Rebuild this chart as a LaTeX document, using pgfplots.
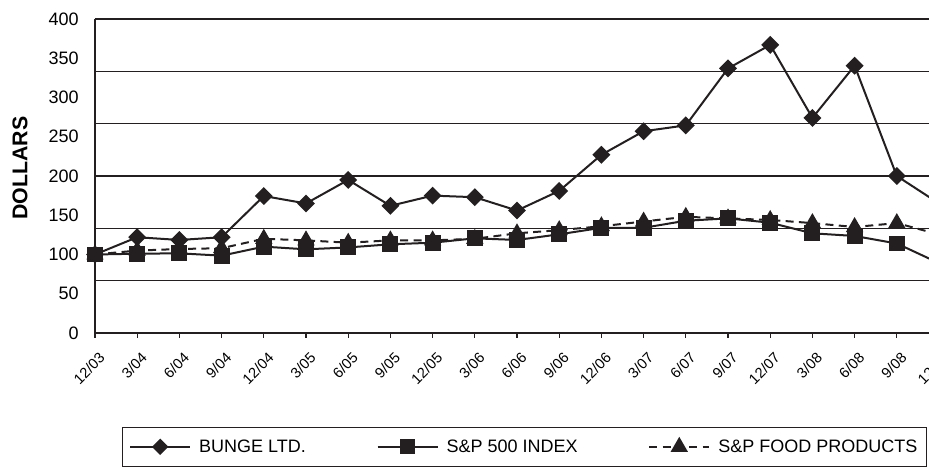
\documentclass[border=0pt]{standalone}
\usepackage{pgfplots}
\usepackage{pgfplotstable}
\pgfplotsset{compat=1.18}
\usepackage{fontspec}
\setmainfont{Liberation Sans}
\definecolor{ink}{RGB}{35,31,32}

\pgfplotstableread{
x bunge sp food
0 100 100 100
1 122 101 105
2 118.5 101.5 107
3 122 98.5 108
4 174.5 110 120
5 165 106.6 118
6 195 109 115
7 162 113 118
8 175 115 118
9 173 120.6 120
10 156 118.5 127
11 181 125.7 131
12 227 134 136
13 257 134 142
14 264.5 143 148
15 337 146 146
16 367 140.5 144
17 274 127 140
18 340.5 123.6 135
19 200 114 140
20 165 89 125.5
}\datatable

\begin{document}
\begin{tikzpicture}
\begin{axis}[
  at={(0,0)}, anchor=south west,
  scale only axis, width=633pt, height=235.5pt,
  xmin=0, xmax=20, ymin=0, ymax=400,
  axis x line*=bottom, axis y line*=left,
  axis line style={ink, line width=1.1pt, -},
  tick align=outside,
  xtick={0,...,20},
  xticklabels={12/03,3/04,6/04,9/04,12/04,3/05,6/05,9/05,12/05,3/06,6/06,9/06,12/06,3/07,6/07,9/07,12/07,3/08,6/08,9/08,12/08},
  x tick label style={rotate=45, anchor=east, font=\fontsize{11}{12}\selectfont, yshift=-13pt, xshift=-2pt},
  x tick style={ink, line width=0.8pt},
  xtick pos=bottom,
  ytick={0,50,...,400},
  y tick label style={font=\fontsize{13.5}{16}\selectfont},
  yticklabel style={xshift=-5pt},
  major tick length=3.75pt,
  y tick style={draw=none},
  extra y ticks={0,66.6667,133.3333,200,266.6667,333.3333,400},
  extra y tick labels={},
  extra y tick style={grid=major, major grid style={ink, line width=0.8pt}, tick style={draw=ink, line width=0.8pt}},
  /pgf/number format/assume math mode=true,
  ylabel={DOLLARS},
  ylabel style={at={(axis description cs:-0.0889,0.525)}, anchor=center, font=\bfseries\fontsize{16}{18}\selectfont},
  legend columns=3,
  legend style={at={(0.032,-0.2994)}, anchor=north west, draw=ink, line width=0.8pt,
    font=\fontsize{13.5}{16}\selectfont, inner ysep=7pt, inner xsep=5pt,
    /tikz/every odd column/.append style={column sep=4pt},
    /tikz/every even column/.append style={column sep=51pt}},
  legend image code/.code={\draw[mark repeat=2,mark phase=2,#1] plot coordinates {(0pt,0pt) (22.5pt,0pt) (45pt,0pt)};},
]
\addlegendimage{ink, line width=1.5pt, mark=square*, mark size=3.6pt, mark options={rotate=45, solid}}
\addlegendentry{BUNGE LTD.}
\addlegendimage{ink, line width=1.5pt, mark=square*, mark size=5pt, mark options={solid}}
\addlegendentry{S\&P 500 INDEX}
\addlegendimage{ink, line width=1.5pt, dash pattern=on 6pt off 4pt, mark=triangle*, mark size=6pt, mark options={solid}}
\addlegendentry{S\&P FOOD PRODUCTS}

\addplot[forget plot, ink, line width=1.5pt, dash pattern=on 6pt off 4pt, mark=triangle*, mark size=6pt, mark options={solid}] table[x=x, y=food]{\datatable};
\addplot[forget plot, ink, line width=1.5pt, mark=square*, mark size=5.2pt, mark options={solid}] table[x=x, y=sp]{\datatable};
\addplot[forget plot, ink, line width=1.5pt, mark=square*, mark size=4pt, mark options={rotate=45, solid}] table[x=x, y=bunge]{\datatable};
\end{axis}
\pgfresetboundingbox
\path[use as bounding box] (-71.25pt,-102.75pt) rectangle (625.5pt,249.75pt);
\end{tikzpicture}
\end{document}
